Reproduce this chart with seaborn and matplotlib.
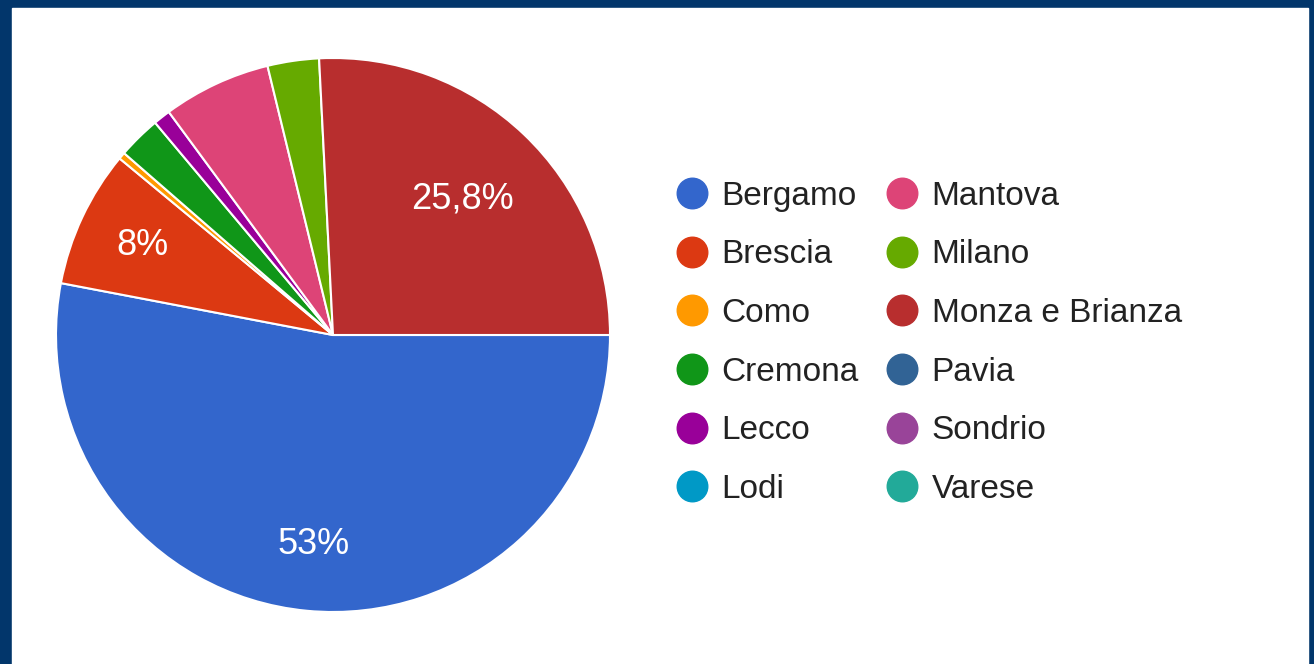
import matplotlib.pyplot as plt
from matplotlib.lines import Line2D
import numpy as np
import seaborn as sns

sns.set_style('white')
plt.rcParams['font.family'] = ['Liberation Sans', 'DejaVu Sans']

provinces = ['Bergamo', 'Brescia', 'Como', 'Cremona', 'Lecco', 'Lodi',
             'Mantova', 'Milano', 'Monza e Brianza', 'Pavia', 'Sondrio', 'Varese']
shares = [53.0, 8.0, 0.4, 2.5, 1.0, 0.0, 6.3, 3.0, 25.8, 0.0, 0.0, 0.0]
colors = ['#3366cc', '#dc3912', '#ff9900', '#109618', '#990099', '#0099c6',
          '#dd4477', '#66aa00', '#b82e2e', '#316395', '#994499', '#22aa99']
shown = ['Bergamo', 'Brescia', 'Monza e Brianza']

fig = plt.figure(figsize=(13.14, 6.64), dpi=100)
fig.patch.set_facecolor('#02366b')
# white panel inside the dark frame
fig.add_artist(plt.Rectangle((12 / 1314, 0), (1314 - 18) / 1314, (664 - 8) / 664,
                             transform=fig.transFigure, color='white', zorder=0))

ax = fig.add_axes([56 / 1314, 52 / 664, 554 / 1314, 554 / 664])

vals = [v for v in shares if v > 0]
cols = [c for v, c in zip(shares, colors) if v > 0]
names = [n for v, n in zip(shares, provinces) if v > 0]


def fmt(v, n):
    if n not in shown:
        return ''
    s = f'{v:.1f}'.rstrip('0').rstrip('.')
    return s.replace('.', ',') + '%'


wedges, _ = ax.pie(vals, colors=cols, startangle=0, counterclock=False,
                   wedgeprops=dict(edgecolor='white', linewidth=1.5))
for w, v, n in zip(wedges, vals, names):
    ang = np.deg2rad((w.theta1 + w.theta2) / 2)
    r = 0.76 if n != 'Monza e Brianza' else 0.68
    ax.text(r * np.cos(ang), r * np.sin(ang), fmt(v, n), color='white',
            fontsize=26, ha='center', va='center')
ax.set_xlim(-1, 1)
ax.set_ylim(-1, 1)
ax.set_aspect('equal')
ax.axis('off')

handles = [Line2D([], [], marker='o', linestyle='', markersize=22,
                  markerfacecolor=c, markeredgecolor=c) for c in colors]
fig.legend(handles, provinces, loc='upper left', bbox_to_anchor=(659 / 1314, 1 - 164 / 664),
           ncol=2, frameon=False, fontsize=24, labelcolor='#222222', borderpad=0,
           handlelength=1.0, handletextpad=0.38, columnspacing=0.8, labelspacing=0.83)

plt.savefig('out.png', dpi=100, facecolor=fig.get_facecolor())
